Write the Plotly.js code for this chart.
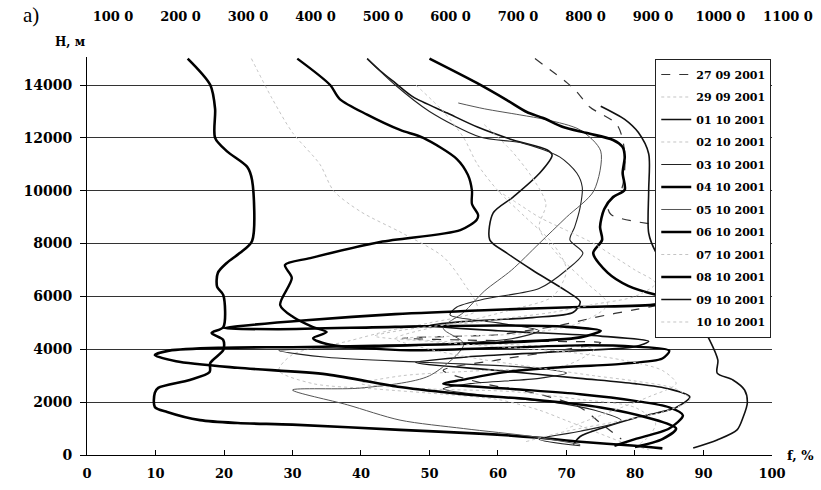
<!DOCTYPE html>
<html>
<head>
<meta charset="utf-8">
<script src="https://cdn.plot.ly/plotly-3.0.1.min.js"></script>
<style>html,body{margin:0;padding:0;background:#fff;}#chart{width:821px;height:490px;}</style>
</head>
<body>
<div id="chart"></div>
<script>
// ---- data: f (%) vs H (m) profiles ----
const seriesNames = ["27 09 2001","29 09 2001","01 10 2001","02 10 2001","03 10 2001","04 10 2001",
                     "05 10 2001","06 10 2001","07 10 2001","08 10 2001","09 10 2001","10 10 2001"];

const f2709 = [65.4,70.1,71.5,73.4,77.4,78.5,78.0,76.0,76.5,83.2,90,96,97,95,91,86,80,74,69,64,60,52,46,55,66,75,70,60,52,58,66,72,75,78];
const h2709 = [15000,14080,13740,13170,12490,11430,10030,9500,9100,8700,8450,8000,7400,6700,6200,5800,5500,5200,4900,4700,4550,4480,4420,4350,4300,4250,4000,3600,3200,2700,2300,1800,1200,600];

const f2909 = [24,27,30,34,36,40,46,52,55,57,50,44,38,30,28,33,42,52,60,66,70,74,78,82];
const h2909 = [15000,13500,12200,11000,10000,9200,8400,7500,6500,5500,5000,4700,4300,3800,3200,2700,2500,2300,2100,1700,1300,900,500,200];

const f0110 = [40.9,42.8,45,47.6,52.6,57,62.2,67.2,67.9,66.1,62.2,59.3,58.8,61.3,65,70,72,71,65,55,50,60,75,82,80,68,55,48,60,72,80,85,88,86,80,75,72,71];
const h0110 = [15000,14540,14080,13550,12940,12410,11920,11540,11350,10670,9760,9160,8140,7640,7000,6200,5800,5400,5200,5050,4900,4700,4500,4300,4100,3900,3700,3500,3200,2900,2700,2500,2200,1800,1400,1000,700,400];

const f0210 = [58,62,65,67,66,69,73,76,72,64,54,46,52,64,74,70,58,46,40,50,62,72,80,83,82,80];
const h0210 = [12500,11500,10500,9500,8600,7500,6500,5700,5000,4600,4500,4420,4300,4150,4000,3400,3200,3000,2700,2500,2400,2100,1800,1200,700,300];

const f0310 = [40.9,45,50,57.4,63.6,69,71.5,72.3,72,71.2,70.5,72.4,70,66,58,54,53,60,66,62,52,40,28,35,50,65,70,66,56,52,60,68,74,78,72,66,72];
const h0310 = [15000,14000,13000,12030,11800,11280,10670,10140,9380,8630,8140,7640,7000,6300,5900,5600,5300,5000,4700,4400,4200,4050,3950,3700,3500,3300,3100,2900,2700,2500,2200,2000,1700,1300,900,600,350];

const f0410 = [14.7,18,18.7,18.7,20.4,23.4,24.1,24.1,22.3,20.4,19.1,19,19.9,19.9,18.2,19.9,19.9,18,17.9,15,10.4,9.9,9.9,11.7,16.5,22,30,45.7,58,66,72,80,84];
const h0410 = [15000,14000,13100,12000,11500,10900,10400,8100,7640,7265,6890,6360,6050,4840,4620,4350,3970,3480,3140,2840,2540,2350,1820,1630,1320,1210,1150,950,800,650,500,350,250];

const f0510 = [54.2,58,63.2,67.2,72,75,74,70,66,62,58,55,52,55,50,40,30,38,45.7,55,65,72];
const h0510 = [13320,13100,12870,12680,12300,11500,10000,9000,8000,7000,6200,5400,4800,4200,3000,2535,2460,1900,1320,1000,700,400];

const f0610 = [30.7,35.5,36.9,40.9,45.7,49.1,54,55.6,56.2,56.2,57.1,56.9,54.5,42.8,32.6,28.9,29.9,28.2,30.1,33,35,33,35,45.7,60,72,80,85,84,78,68,60,55,52,62,72,80,85,87,85,80,77];
const h0610 = [15000,14000,13470,12880,12300,12000,11200,10600,10000,9500,9080,8900,8510,8060,7450,7190,6700,5680,5220,4840,4650,4420,4200,3970,4050,4150,4100,3950,3650,3450,3300,3100,2850,2700,2500,2300,2050,1800,1500,1000,600,350];

const f0710 = [48,52,55,57,60,64,68,70,68,62,56,50,45,50,58,66,74,80,86,88,85,78,70,64];
const h0710 = [14000,13000,12000,11000,10000,9000,8000,7000,6000,5500,5100,4800,4400,4000,3600,3300,3000,2800,2500,2100,1700,1300,900,500];

const f0810 = [50,56.9,61.3,64.2,66.6,69.5,73,76.8,78.2,78.5,78.2,78.5,76.8,75.5,74.9,75.2,73.9,76,79,83.2,86,83.2,72,58,45,32,22,20,28,45,60,70,75,72,60,42,30,20,12,9.9,13,22,35,45.7,55,65,75,82,86,84,80];
const h0810 = [15000,14080,13430,12980,12750,12410,12180,11920,11650,11280,10670,10030,9760,9300,8630,8140,7640,6900,6400,6050,5900,5700,5600,5480,5330,5100,4870,4800,4760,4850,4900,4850,4700,4450,4250,4130,4080,4060,3950,3780,3550,3300,3050,2570,2300,2100,1800,1400,1000,600,300];

const f0910 = [75,78.5,80.5,82,82,82,83,85,87,89,90.9,92.1,92,94.3,96,96.4,95.8,94.9,92,88.5];
const h0910 = [13200,12700,12200,11400,10000,8400,7700,7000,6200,5200,4350,3590,3100,2840,2460,1970,1440,950,570,265];

const f1010 = [60,63,66,70,74,77,80,83,80,74,68,62,56,48,42,50,60,70,78,84,86,82,76,70];
const h1010 = [10000,9500,9000,8500,8000,7500,7000,6500,6000,5700,5400,5200,5000,4800,4500,4300,4100,3900,3600,3200,2700,2200,1600,1000];

// axis ticks
const xTickVals = [0,10,20,30,40,50,60,70,80,90,100];
const yTickVals = [0,2000,4000,6000,8000,10000,12000,14000];
const topTickVals = [1000,2000,3000,4000,5000,6000,7000,8000,9000,10000,11000];
const topTickText = ["100 0","200 0","300 0","400 0","500 0","600 0","700 0","800 0","900 0","1000 0","1100 0"];

// ---- styles ----
const fList = [f2709,f2909,f0110,f0210,f0310,f0410,f0510,f0610,f0710,f0810,f0910,f1010];
const hList = [h2709,h2909,h0110,h0210,h0310,h0410,h0510,h0610,h0710,h0810,h0910,h1010];
const styles = [
  {color:'#333', width:1.2, dash:'dash'},
  {color:'#c4c4c4', width:1, dash:'dot'},
  {color:'#111', width:1.6, dash:'solid'},
  {color:'#c4c4c4', width:1, dash:'dot'},
  {color:'#222', width:1.1, dash:'solid'},
  {color:'#000', width:2.6, dash:'solid'},
  {color:'#555', width:1, dash:'solid'},
  {color:'#000', width:2.4, dash:'solid'},
  {color:'#c4c4c4', width:1, dash:'dot'},
  {color:'#000', width:2.6, dash:'solid'},
  {color:'#111', width:1.6, dash:'solid'},
  {color:'#c4c4c4', width:1, dash:'dot'}
];

const traces = seriesNames.map((n,i)=>({
  type:'scatter', mode:'lines', name:n, x:fList[i], y:hList[i],
  xaxis:'x', yaxis:'y', legendgroup:'g'+i,
  line:{color:styles[i].color, width:styles[i].width, dash:styles[i].dash, shape:'spline', smoothing:0.8},
  hoverinfo:'skip'
}));
// carrier for the top axis (own invisible y axis so it does not cover the main plot)
traces.push({type:'scatter', mode:'markers', x:topTickVals, y:topTickVals.map(()=>0),
  xaxis:'x2', yaxis:'y2', showlegend:false, hoverinfo:'skip', marker:{opacity:0}});

const tickFont = {family:'DejaVu Serif', size:13, color:'#000', weight:'bold'};

const layout = {
  width:821, height:490,
  margin:{l:87, r:21, t:57, b:35, pad:0},
  paper_bgcolor:'#fff', plot_bgcolor:'rgba(0,0,0,0)',
  showlegend:true,
  xaxis:{domain:[0,0.9607], range:[0,100], tickvals:xTickVals, ticks:'inside', ticklen:5,
         tickcolor:'#000', showgrid:false, zeroline:false, showline:true, linecolor:'#000', linewidth:1,
         tickfont:tickFont, ticklabelstandoff:6, fixedrange:true},
  yaxis:{domain:[0,1], range:[0,15060], tickvals:yTickVals, tickformat:'d', ticks:'outside', ticklen:6, tickcolor:'#000',
         showgrid:true, gridcolor:'#333', gridwidth:1, zeroline:false,
         showline:true, linecolor:'#000', linewidth:1,
         tickfont:{family:'DejaVu Serif', size:14, color:'#000', weight:'bold'}, ticklabelstandoff:5, fixedrange:true},
  xaxis2:{domain:[0,1], range:[615,11178], anchor:'y2', side:'top',
          tickvals:topTickVals, ticktext:topTickText, ticks:'outside', ticklen:30,
          tickcolor:'rgba(0,0,0,0)', showline:false, showgrid:false, zeroline:false,
          tickfont:tickFont, fixedrange:true},
  yaxis2:{domain:[0,1], range:[0,1], anchor:'x2', visible:false, fixedrange:true},
  legend:{x:0.797, y:0.995, xanchor:'left', yanchor:'top', bgcolor:'#fff', bordercolor:'#222', borderwidth:1,
          font:{family:'DejaVu Serif', size:11, color:'#000', weight:'bold'}, tracegroupgap:3.5,
          itemwidth:30, traceorder:'grouped'},
  annotations:[
    {text:'a)', xref:'paper', yref:'paper', x:-0.0785, y:1.105, showarrow:false, xanchor:'center', yanchor:'middle',
     font:{family:'Liberation Serif', size:21, color:'#000'}},
    {text:'H, м', xref:'paper', yref:'paper', x:0.002, y:1.037, showarrow:false, xanchor:'right', yanchor:'middle',
     font:{family:'DejaVu Serif', size:12, color:'#000', weight:'bold'}},
    {text:'f, %', xref:'paper', yref:'paper', x:1.0, y:0, showarrow:false, xanchor:'center', yanchor:'middle',
     font:{family:'DejaVu Serif', size:13, color:'#000', weight:'bold'}}
  ]
};

Plotly.newPlot('chart', traces, layout, {staticPlot:true, displayModeBar:false});
</script>
</body>
</html>
